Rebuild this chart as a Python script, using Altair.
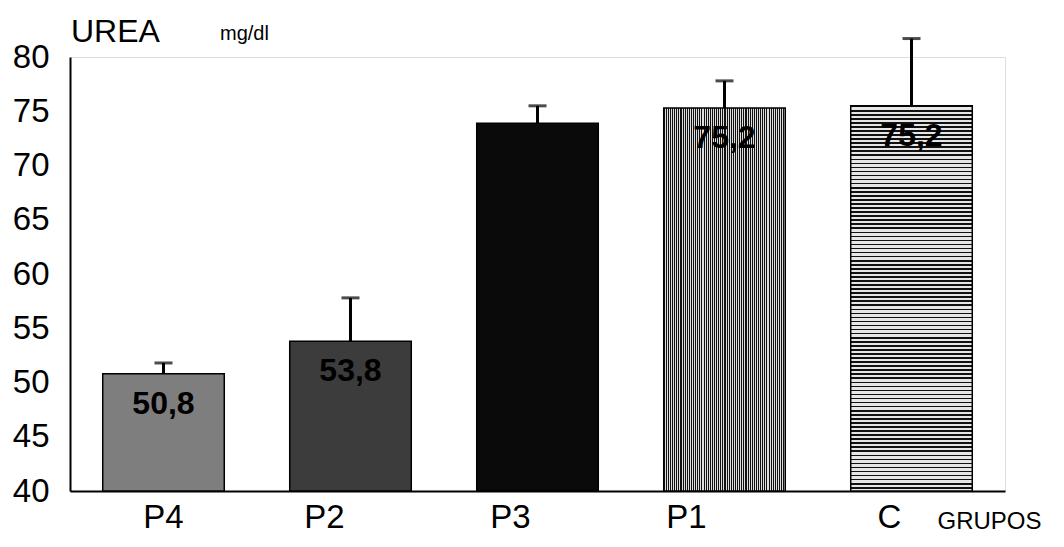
import altair as alt
import pandas as pd

# ---- data ----
grupos = ["P4", "P2", "P3", "P1", "C"]
media = [50.8, 53.8, 73.9, 75.3, 75.5]
error_sup = [51.8, 57.8, 75.5, 77.8, 81.7]
etiquetas = ["50,8", "53,8", "", "75,2", "75,2"]
y_ticks = [40, 45, 50, 55, 60, 65, 70, 75, 80]

df = pd.DataFrame({"grupo": grupos, "media": media, "sup": error_sup, "etiqueta": etiquetas})

FONT = "Liberation Sans"
W, H = 935, 434

# horizontal shift of each category label (style), as in the original print
label_shift = {"P4": 0, "P2": -26, "P3": -27, "P1": -38, "C": -22}
shift_expr = " : ".join(f"datum.value == '{k}' ? {v}" for k, v in label_shift.items()) + " : 0"

x_enc = alt.X("grupo:N", sort=grupos,
              scale=alt.Scale(paddingInner=0.35, paddingOuter=0.175),
              axis=alt.Axis(title="GRUPOS", labelAngle=0, labelFontSize=33, labelFont=FONT,
                            labelColor="black", labelPadding=10, tickSize=0,
                            labelOffset=alt.expr(shift_expr),
                            domainColor="black", domainWidth=2,
                            titleFont=FONT, titleFontSize=24, titleFontWeight="normal",
                            titleColor="black", titleAlign="left", titleBaseline="alphabetic",
                            titleX=867, titleY=37, titleAnchor="start"))
y_scale = alt.Scale(domain=[40, 80], nice=False, zero=False)
y_enc = alt.Y("media:Q", scale=y_scale,
              axis=alt.Axis(title=None, values=y_ticks, labelFontSize=33, labelFont=FONT,
                            labelColor="black", labelPadding=21, tickSize=0, grid=False,
                            domainColor="black", domainWidth=2))


def stripes(vertical, n, dark="#000000", light="#ffffff", frac=0.45):
    stops = []
    for i in range(n):
        a = i / n
        b = (i + frac) / n
        c = (i + 1) / n
        stops += [alt.GradientStop(offset=a, color=dark), alt.GradientStop(offset=b, color=dark),
                  alt.GradientStop(offset=b, color=light), alt.GradientStop(offset=c, color=light)]
    if vertical:
        return alt.LinearGradient(gradient="linear", x1=0, x2=1, y1=0, y2=0, stops=stops)
    return alt.LinearGradient(gradient="linear", x1=0, x2=0, y1=0, y2=1, stops=stops)


fills = {
    "P4": "#7e7e7e",
    "P2": "#3c3c3c",
    "P3": "#0a0a0a",
    "P1": stripes(True, 58, dark="#111111", light="#dddddd", frac=0.5),
    "C": stripes(False, 95, dark="#111111", light="#e6e6e6", frac=0.4),
}

base = alt.Chart(df)
layers = []
for g in grupos:
    layers.append(
        base.transform_filter(alt.datum.grupo == g)
        .mark_bar(color=fills[g], stroke="black", strokeWidth=1.5)
        .encode(x=x_enc, y=y_enc, y2=alt.datum(40))
    )

stem = base.mark_rule(color="black", strokeWidth=3).encode(
    x=alt.X("grupo:N", sort=grupos), y=alt.Y("media:Q", scale=y_scale), y2="sup:Q")
cap = base.mark_tick(color="black", thickness=3, size=18).encode(
    x=alt.X("grupo:N", sort=grupos), y=alt.Y("sup:Q", scale=y_scale))
labels = base.mark_text(font=FONT, fontSize=32, fontWeight="bold", color="black",
                        baseline="middle", dy=30).encode(
    x=alt.X("grupo:N", sort=grupos), y=alt.Y("media:Q", scale=y_scale), text="etiqueta:N")

one = alt.Data(values=[{"k": 1}])
t_urea = alt.Chart(one).mark_text(font=FONT, fontSize=32, align="left", baseline="alphabetic",
                                  color="black").encode(
    x=alt.value(1), y=alt.value(-15), text=alt.value("UREA"))
t_unit = alt.Chart(one).mark_text(font=FONT, fontSize=20, align="left", baseline="alphabetic",
                                  color="black").encode(
    x=alt.value(150), y=alt.value(-17), text=alt.value("mg/dl"))

chart = alt.layer(*layers, stem, cap, labels, t_urea, t_unit).properties(
    width=W, height=H,
    autosize=alt.AutoSizeParams(type="none"),
    padding={"left": 70, "top": 57, "right": 59, "bottom": 56},
).configure_view(stroke="black", strokeWidth=2).configure(background="white")

chart.save("out.html", embed_options={"renderer": "svg", "actions": False})
